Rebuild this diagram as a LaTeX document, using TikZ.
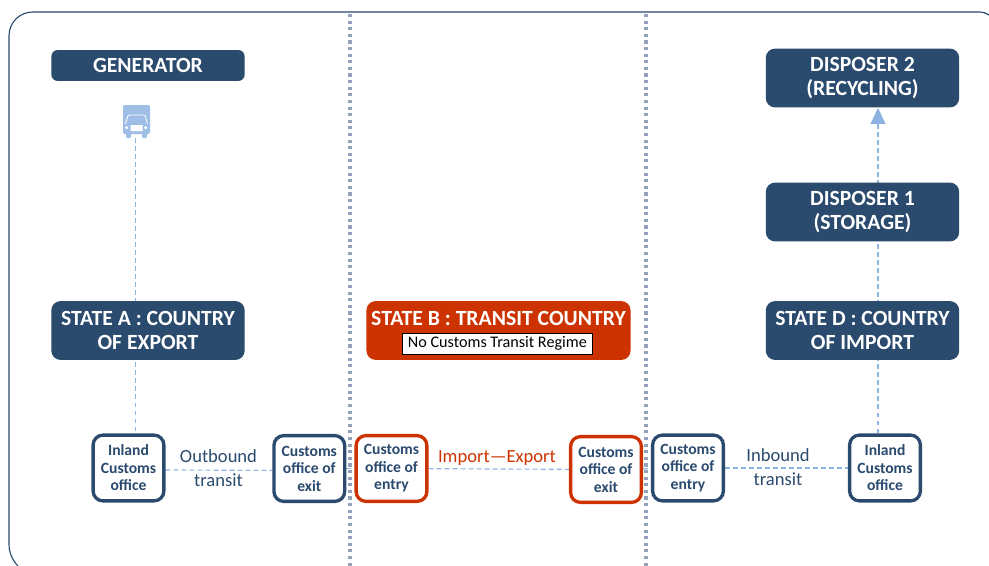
\documentclass[tikz,border=0pt]{standalone}
\usepackage{fontspec}
\usetikzlibrary{arrows.meta,backgrounds}
\setmainfont{Carlito}
\definecolor{navy}{HTML}{2A4A6E}
\definecolor{rust}{HTML}{CC3300}
\definecolor{paleblue}{HTML}{8DB3E2}
\definecolor{dotgray}{HTML}{93A1BA}
\tikzset{
  title/.style={rectangle,rounded corners=6.5pt,fill=navy,text=white,font=\fontsize{15.4}{17}\selectfont\bfseries,align=center,minimum width=194*0.7087pt,minimum height=59*0.7087pt,inner sep=0pt},
  office/.style={rectangle,rounded corners=7pt,draw=navy,line width=2.35pt,fill=white,text=navy,font=\fontsize{11.1}{12.4}\selectfont\bfseries,align=center,minimum width=71*0.7087pt,minimum height=66*0.7087pt,inner sep=0pt},
  redoffice/.style={office,draw=rust},
  route/.style={paleblue,line width=0.8pt,dash pattern=on 3.5pt off 2.2pt},
  stateline/.style={draw=dotgray,line width=2.4pt,dash pattern=on 2.2pt off 2.5pt},
  caption/.style={text=navy,font=\fontsize{13.2}{17.5}\selectfont,align=center}
}
\begin{document}
\begin{tikzpicture}[x=0.025cm,y=-0.025cm]
    \useasboundingbox (0,0) rectangle (989,566);
    \clip (0,0) rectangle (989,566);

    % Frame
    \draw[navy,line width=0.8pt] (18,566) .. controls (12,560) and (9,552) .. (9,544) -- (9,36) .. controls (9,22) and (20,12) .. (33,12) -- (980,12) .. controls (983,12) and (986,13) .. (989,15);

    % Titles
    \node[title,rounded corners=4.5pt,minimum height=31*0.7087pt] (generator) at (148,65.5) {GENERATOR};
    \node[title] (stateA) at (148,330.5) {STATE A : COUNTRY\\OF EXPORT};
    \node[title,fill=rust,minimum width=265*0.7087pt] (stateB) at (498.5,330.5) {STATE B : TRANSIT COUNTRY\\\mbox{}};
    \node[title] (stateD) at (862.5,330.5) {STATE D : COUNTRY\\OF IMPORT};
    \node[title] (disposerA) at (862.5,212) {DISPOSER 1\\(STORAGE)};
    \node[title] (disposerB) at (862.5,78) {DISPOSER 2\\(RECYCLING)};
    \node[draw=black,fill=white,line width=0.5pt,inner sep=0pt,minimum width=191*0.7087pt,minimum height=21*0.7087pt,font=\fontsize{11.5}{12}\selectfont] (regime) at (497.4,343.5) {No Customs Transit Regime};

    % Truck
    \coordinate (truck) at (135.5,138);
    \fill[paleblue!85!white,rounded corners=1pt] (123,105) rectangle (150,134);
    \fill[paleblue!85!white,rounded corners=0.8pt] (126,132) rectangle (131,138) (142,132) rectangle (147,138);
    \draw[white,line width=0.6pt,rounded corners=1pt] (125.5,124) -- (128,115) -- (145,115) -- (147.5,124);
    \fill[white] (130.5,125) rectangle (142.5,131) (126.7,127.7) circle (1.7) (145.7,127.7) circle (1.7);

    % Offices
    \node[office] (inlandA) at (128.5,468) {Inland\\Customs\\office};
    \node[office] (exitA) at (309.3,468.5) {Customs\\office of\\exit};
    \node[redoffice] (entryB) at (391.5,468.5) {Customs\\office of\\entry};
    \node[redoffice] (exitB) at (606,469.5) {Customs\\office of\\exit};
    \node[office] (entryD) at (688,468) {Customs\\office of\\entry};
    \node[office] (inlandD) at (885,468) {Inland\\Customs\\office};
    \coordinate (tip) at (878,108);
    \coordinate (stub) at (923,468);

    % Routes
    \begin{pgfonlayer}{background}
    \draw[route] (truck) -- (truck |- inlandA.north);
    \draw[route] ([yshift=-1.4pt]inlandA.east) -- ([yshift=-1.4pt]exitA.west);
    \draw[route] (exitA) -- (entryB);
    \draw[route] (entryB) -- (exitB);
    \draw[route] (exitB) -- (entryD);
    \draw[route] (entryD) -- (stub);
    \draw[route,-{Triangle[length=11.3pt,width=10.6pt]}] (tip |- inlandD.north) -- (tip);
    \end{pgfonlayer}

    % Dotted state lines
    \draw[stateline] (350,14) -- (350,566);
    \draw[stateline] (646,14) -- (646,566);

    % Captions
    \node[caption] (outbound) at (218.5,468) {Outbound\\transit};
    \node[caption,text=rust] (impexp) at (497,458) {Import—Export};
    \node[caption] (inbound) at (778,467) {Inbound\\transit};
  \end{tikzpicture}
\end{document}
